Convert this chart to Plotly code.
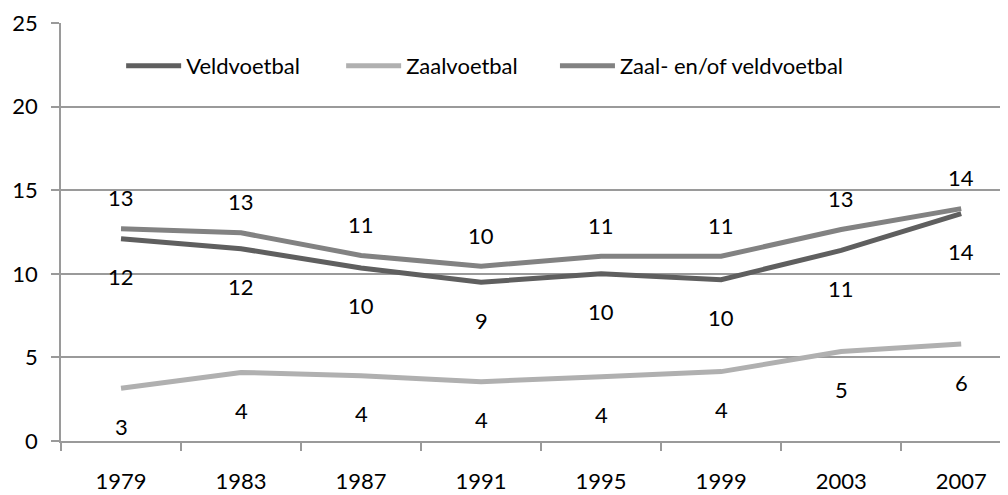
import plotly.graph_objects as go

years = ["1979", "1983", "1987", "1991", "1995", "1999", "2003", "2007"]
veld = [12.1, 11.5, 10.35, 9.5, 10.0, 9.65, 11.4, 13.6]
zaal = [3.15, 4.1, 3.9, 3.55, 3.85, 4.15, 5.35, 5.8]
beide = [12.7, 12.45, 11.1, 10.45, 11.05, 11.05, 12.65, 13.9]
veld_labels = ["12", "12", "10", "9", "10", "10", "11", "14"]
zaal_labels = ["3", "4", "4", "4", "4", "4", "5", "6"]
beide_labels = ["13", "13", "11", "10", "11", "11", "13", "14"]
y_ticks = [0, 5, 10, 15, 20, 25]

FONT = "Lato"
FS = 22
series = [
    ("Veldvoetbal", veld, veld_labels, "#5f5f5f", -38, "legend"),
    ("Zaalvoetbal", zaal, zaal_labels, "#b0b0b0", -38, "legend"),
    ("Zaal- en/of veldvoetbal", beide, beide_labels, "#828282", 31, "legend2"),
]

fig = go.Figure()
annotations = []
for name, vals, labels, color, shift, leg in series:
    fig.add_trace(go.Scatter(
        x=years, y=vals, mode="lines", name=name,
        line=dict(color=color, width=5),
        hoverinfo="skip", legend=leg,
    ))
    for i, (v, t) in enumerate(zip(vals, labels)):
        annotations.append(dict(
            x=i, y=v, xref="x", yref="y", text=t, showarrow=False,
            yshift=shift, visible=True,
            font=dict(family=FONT, size=FS, color="black"),
        ))

legend_common = dict(
    orientation="h", yanchor="middle", xanchor="left", y=0.897,
    font=dict(family=FONT, size=FS, color="black"),
    itemwidth=55, bgcolor="rgba(0,0,0,0)", traceorder="normal",
)

# page body has an 8px default margin: compensate so the chart sits as in the reference
fig.update_layout(
    width=1000, height=487,
    margin=dict(l=53, r=0, t=15, b=54, autoexpand=False),
    paper_bgcolor="white", plot_bgcolor="white",
    font=dict(family=FONT, size=FS, color="black"),
    annotations=annotations,
    showlegend=True,
    legend=dict(x=0.0635, entrywidth=150, entrywidthmode="pixels", **legend_common),
    legend2=dict(x=0.5216, **legend_common),
    xaxis=dict(
        type="category", categoryorder="array", categoryarray=years,
        range=[-0.5, 7.39], tickson="boundaries",
        ticks="outside", ticklen=8, tickcolor="#9a9a9a", tickwidth=1.5,
        showline=True, linecolor="#9a9a9a", linewidth=1.5,
        showgrid=False, zeroline=False, ticklabelstandoff=20,
        tickfont=dict(family=FONT, size=FS, color="black"),
        fixedrange=True,
    ),
    yaxis=dict(
        range=[0, 25], tickvals=y_ticks, ticktext=[str(v) for v in y_ticks],
        ticks="outside", ticklen=8, tickcolor="#9a9a9a", tickwidth=1.5,
        showline=True, linecolor="#9a9a9a", linewidth=1.5,
        showgrid=True, gridcolor="#9a9a9a", gridwidth=1.5,
        zeroline=False, ticklabelstandoff=9,
        tickfont=dict(family=FONT, size=FS, color="black"),
        fixedrange=True,
    ),
)

fig.write_html("out.html")
